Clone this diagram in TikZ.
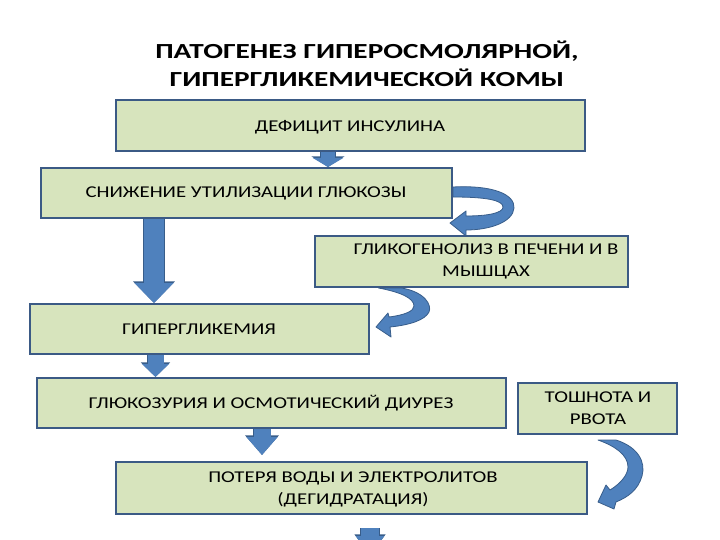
\documentclass[tikz,border=0pt]{standalone}
\usepackage{fontspec}
\setmainfont{Carlito}[FakeStretch=1.26]
\newfontfamily\ttlfont{Carlito}[FakeStretch=1.36]
\usetikzlibrary{arrows.meta,calc}
\pgfdeclarelayer{bg}
\pgfsetlayers{bg,main}
\definecolor{boxfill}{HTML}{D7E4BD}
\definecolor{boxline}{HTML}{3B5A85}
\definecolor{arrfill}{HTML}{4F81BD}
\definecolor{arrline}{HTML}{385D8A}
\tikzset{
  box/.style={draw=boxline, line width=2pt, fill=boxfill, inner sep=0pt},
  txt/.style={font=\fontsize{16.5}{22}\selectfont, align=center, inner sep=0pt, text=black},
  ttl/.style={font=\ttlfont\fontsize{21.5}{28}\selectfont\bfseries, align=center, inner sep=0pt},
  curv/.style={fill=arrfill, draw=arrline, line width=0.8pt, line join=round},
}
\begin{document}
\begin{tikzpicture}[x=1pt,y=-1pt]
\useasboundingbox (0,0) rectangle (720,540);
\clip (0,0) rectangle (720,540);
\node[ttl] (title) at (367,64) {ПАТОГЕНЕЗ ГИПЕРОСМОЛЯРНОЙ,\\ГИПЕРГЛИКЕМИЧЕСКОЙ КОМЫ};
% boxes
\node[box, minimum width=469pt, minimum height=51pt] (b1) at (350.5,125.5) {};
\node[box, minimum width=411pt, minimum height=50pt] (b2) at (246.5,193) {};
\node[box, minimum width=313pt, minimum height=51pt] (b3) at (471.5,261.5) {};
\node[box, minimum width=339pt, minimum height=50pt] (b4) at (199.5,329) {};
\node[box, minimum width=469pt, minimum height=50pt] (b5) at (271.5,403) {};
\node[box, minimum width=159pt, minimum height=51pt] (b6) at (597.5,408.5) {};
\node[box, minimum width=471pt, minimum height=52pt] (b7) at (351.5,488) {};
% texts
\node[txt] (t1) at (350,127) {ДЕФИЦИТ ИНСУЛИНА};
\node[txt] (t2) at (246,193) {СНИЖЕНИЕ УТИЛИЗАЦИИ ГЛЮКОЗЫ};
\node[txt] (t3) at (486,261) {ГЛИКОГЕНОЛИЗ В ПЕЧЕНИ И В\\МЫШЦАХ};
\node[txt] (t4) at (199,329) {ГИПЕРГЛИКЕМИЯ};
\node[txt] (t5) at (271,403) {ГЛЮКОЗУРИЯ И ОСМОТИЧЕСКИЙ ДИУРЕЗ};
\node[txt] (t6) at (598,408.5) {ТОШНОТА И\\РВОТА};
\node[txt] (t7) at (353,489) {ПОТЕРЯ ВОДЫ И ЭЛЕКТРОЛИТОВ\\(ДЕГИДРАТАЦИЯ)};
% arrow end points
\coordinate (a1s) at ($(b1.south)+(-22.5,0)$);
\coordinate (a1e) at ($(b2.north)+(81.5,0)$);
\coordinate (a2s) at ($(b2.south)+(-92.5,0)$);
\coordinate (a2e) at ($(b4.north)+(-45.5,0)$);
\coordinate (a3s) at ($(b4.south)+(-44,0)$);
\coordinate (a3e) at ($(b5.north)+(-116,0)$);
\coordinate (a4s) at ($(b5.south)+(-9.5,0)$);
\coordinate (a4e) at ($(b7.north)+(-89.5,-6)$);
\coordinate (a5s) at ($(b7.south)+(18.5,13)$);
\coordinate (a5e) at ($(b7.south)+(18.5,41)$);
\coordinate (c1s) at ($(b2.east)+(0,-6)$);
\coordinate (c1b) at ($(b2.east)+(0,4)$);
\coordinate (c2s) at ($(b3.south)+(-93,0)$);
\coordinate (c2b) at ($(b3.south)+(-70,0)$);
\coordinate (c3s) at ($(b6.south)+(0.5,5)$);
\coordinate (c3b) at ($(b6.south)+(18.5,5)$);
\begin{pgfonlayer}{bg}
\fill[white] (0,0) rectangle (720,540);
\foreach \s/\e/\lw/\tw/\tl in {a1s/a1e/14/30/9, a2s/a2e/20/38/20, a3s/a3e/16/26/13, a4s/a4e/17/30/18, a5s/a5e/18/27/20}{
  \draw[arrline, line width=\lw pt+1.6pt, -{Triangle[width=\tw pt+2.6pt,length=\tl pt+1.6pt]}] (\s) -- (\e);
  \draw[arrfill, line width=\lw pt, -{Triangle[width=\tw pt,length=\tl pt]}] (\s) -- (\e);
}
% curved arrows
\path[curv] (c1s) .. controls (492,185) and (515,194) .. (514,208)
  .. controls (513,222) and (490,230) .. (466,230) -- (466,236) -- (450,223) -- (466,211) -- (466,216)
  .. controls (488,216) and (503,213) .. (503,207) .. controls (503,200) and (485,197) .. (c1b) -- cycle;
\path[curv] (c2s) -- (c2b) .. controls (425,292) and (432,305) .. (429,312)
  .. controls (425,320) and (410,325) .. (390,327) -- (391,337) -- (376,327) -- (388,313) -- (389,317)
  .. controls (405,315) and (414,311) .. (414,306) .. controls (414,298) and (400,292) .. (c2s) -- cycle;
\path[curv] (c3s) -- (c3b) .. controls (638,447) and (646,462) .. (642,476)
  .. controls (638,490) and (628,497) .. (616,502) -- (614,509) -- (598,502) -- (606,485) -- (610,490)
  .. controls (620,484) and (628,475) .. (628,467) .. controls (628,455) and (615,446) .. (c3s) -- cycle;
\end{pgfonlayer}
\end{tikzpicture}
\end{document}
